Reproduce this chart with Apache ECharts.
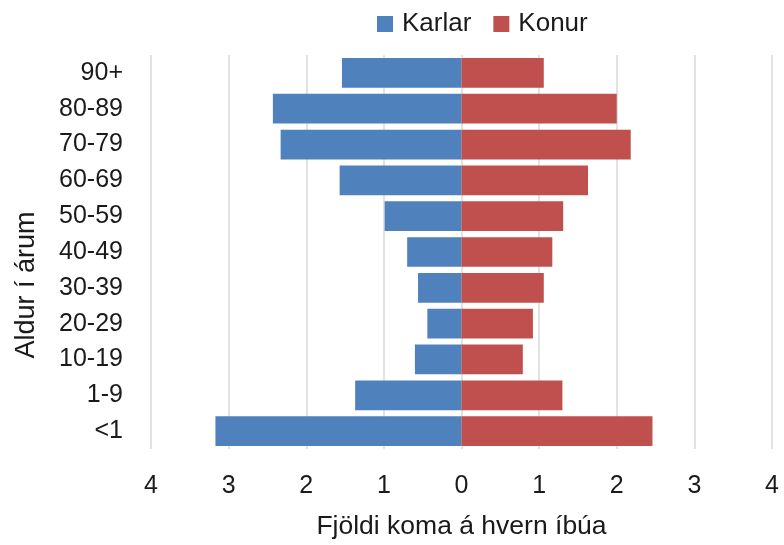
<!DOCTYPE html>
<html>
<head>
<meta charset="utf-8">
<script src="https://cdn.jsdelivr.net/npm/echarts@6/dist/echarts.min.js"></script>
<style>
  html, body { margin: 0; padding: 0; background: #fff; }
  #main { width: 784px; height: 545px; }
</style>
</head>
<body>
<div id="main"></div>
<script>
// aldurshópar, neðst til efst
const ageGroups = ['<1', '1-9', '10-19', '20-29', '30-39', '40-49', '50-59', '60-69', '70-79', '80-89', '90+'];
const karlar = [3.17, 1.37, 0.60, 0.44, 0.56, 0.70, 0.99, 1.57, 2.33, 2.43, 1.54];
const konur = [2.46, 1.30, 0.79, 0.92, 1.06, 1.17, 1.31, 1.63, 2.18, 2.00, 1.06];
const xTicks = [-4, 4, 1]; // min, max, interval

const FONT = '"Liberation Sans Narrow", "Arial Narrow", sans-serif';
const chart = echarts.init(document.getElementById('main'));

const option = {
    animation: false,
    textStyle: { fontFamily: FONT, color: '#1a1a1a' },
    legend: {
        top: 6,
        left: 372,
        itemWidth: 16,
        itemHeight: 16,
        itemGap: 22,
        icon: 'rect',
        textStyle: { fontFamily: FONT, fontSize: 26, color: '#1a1a1a', padding: [0, 0, 0, 4] },
        data: ['Karlar', 'Konur']
    },
    grid: { left: 151, right: 12, top: 55, bottom: 90 },
    xAxis: {
        type: 'value',
        min: xTicks[0],
        max: xTicks[1],
        interval: xTicks[2],
        axisLine: { show: false },
        axisTick: { show: false },
        axisLabel: {
            fontFamily: FONT,
            fontSize: 25,
            color: '#1a1a1a',
            margin: 25,
            formatter: (v) => Math.abs(v)
        },
        splitLine: { lineStyle: { color: '#d9d9d9', width: 1.5 } },
        name: 'Fjöldi koma á hvern íbúa',
        nameLocation: 'middle',
        nameGap: 64,
        nameTextStyle: { fontFamily: FONT, fontSize: 26.5, color: '#1a1a1a' }
    },
    yAxis: {
        type: 'category',
        data: ageGroups,
        axisLine: { show: false },
        axisTick: { show: false },
        axisLabel: { fontFamily: FONT, fontSize: 25, color: '#1a1a1a', margin: 28 },
        name: 'Aldur í árum',
        nameLocation: 'middle',
        nameRotate: 90,
        nameGap: 111,
        nameTextStyle: { fontFamily: FONT, fontSize: 27, color: '#1a1a1a', padding: [0, 66, 0, 0] }
    },
    series: [
        {
            name: 'Karlar',
            type: 'bar',
            stack: 'total',
            barCategoryGap: '17%',
            itemStyle: { color: '#4F81BD' },
            data: karlar.map((v) => -v)
        },
        {
            name: 'Konur',
            type: 'bar',
            stack: 'total',
            barCategoryGap: '17%',
            itemStyle: { color: '#C0504D' },
            data: konur
        }
    ]
};

chart.setOption(option);
</script>
</body>
</html>
